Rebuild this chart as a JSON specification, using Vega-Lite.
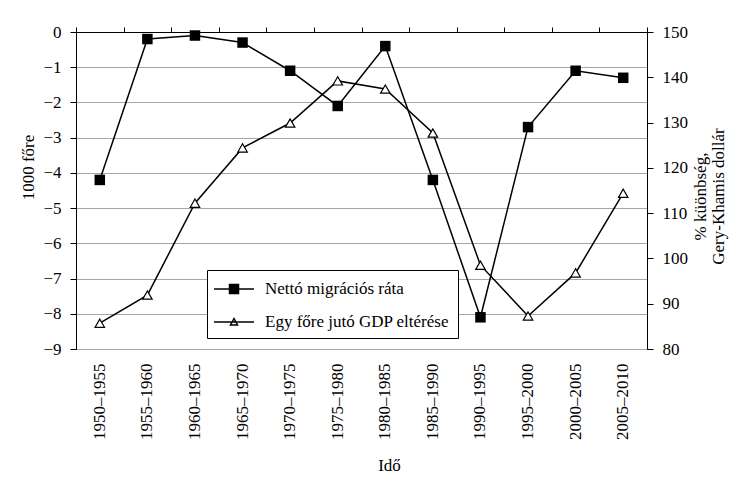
{
  "$schema": "https://vega.github.io/schema/vega-lite/v6.json",
  "autosize": {"type": "none"},
  "width": 571,
  "height": 317,
  "padding": {"left": 76, "top": 32, "right": 86, "bottom": 132},
  "background": "white",
  "config": {
    "view": {"stroke": "black", "strokeWidth": 1},
    "font": "Liberation Serif",
    "axis": {
      "labelFont": "Liberation Serif",
      "labelFontSize": 17,
      "labelColor": "black",
      "titleFont": "Liberation Serif",
      "titleFontSize": 17,
      "titleFontWeight": "normal",
      "titleColor": "black",
      "domainColor": "black",
      "tickColor": "black"
    },
    "legend": {
      "labelFont": "Liberation Serif",
      "labelFontSize": 17,
      "labelColor": "black",
      "labelLimit": 400
    }
  },
  "data": {
    "values": [
      {"period": "1950–1955", "series": "Nettó migrációs ráta", "value": -4.2},
      {"period": "1955–1960", "series": "Nettó migrációs ráta", "value": -0.2},
      {"period": "1960–1965", "series": "Nettó migrációs ráta", "value": -0.1},
      {"period": "1965–1970", "series": "Nettó migrációs ráta", "value": -0.3},
      {"period": "1970–1975", "series": "Nettó migrációs ráta", "value": -1.1},
      {"period": "1975–1980", "series": "Nettó migrációs ráta", "value": -2.1},
      {"period": "1980–1985", "series": "Nettó migrációs ráta", "value": -0.4},
      {"period": "1985–1990", "series": "Nettó migrációs ráta", "value": -4.2},
      {"period": "1990–1995", "series": "Nettó migrációs ráta", "value": -8.1},
      {"period": "1995–2000", "series": "Nettó migrációs ráta", "value": -2.7},
      {"period": "2000–2005", "series": "Nettó migrációs ráta", "value": -1.1},
      {"period": "2005–2010", "series": "Nettó migrációs ráta", "value": -1.3},
      {"period": "1950–1955", "series": "Egy főre jutó GDP eltérése", "value": 85.7},
      {"period": "1955–1960", "series": "Egy főre jutó GDP eltérése", "value": 91.9},
      {"period": "1960–1965", "series": "Egy főre jutó GDP eltérése", "value": 112.2},
      {"period": "1965–1970", "series": "Egy főre jutó GDP eltérése", "value": 124.4},
      {"period": "1970–1975", "series": "Egy főre jutó GDP eltérése", "value": 129.9},
      {"period": "1975–1980", "series": "Egy főre jutó GDP eltérése", "value": 139.2},
      {"period": "1980–1985", "series": "Egy főre jutó GDP eltérése", "value": 137.4},
      {"period": "1985–1990", "series": "Egy főre jutó GDP eltérése", "value": 127.7},
      {"period": "1990–1995", "series": "Egy főre jutó GDP eltérése", "value": 98.5},
      {"period": "1995–2000", "series": "Egy főre jutó GDP eltérése", "value": 87.3},
      {"period": "2000–2005", "series": "Egy főre jutó GDP eltérése", "value": 96.8},
      {"period": "2005–2010", "series": "Egy főre jutó GDP eltérése", "value": 114.4}
    ]
  },
  "layer": [
    {
      "encoding": {
        "x": {
          "field": "period", "type": "nominal", "sort": null,
          "scale": {"type": "band", "paddingInner": 0, "paddingOuter": 0},
          "axis": {
            "orient": "bottom", "domain": false, "ticks": false,
            "labelAngle": -90, "labelPadding": 14,
            "title": "Idő", "titleX": 313, "titleY": 116,
            "titleBaseline": "middle", "titleAlign": "center"
          }
        },
        "y": {
          "field": "value", "type": "quantitative",
          "scale": {"domain": [-9, 0], "nice": false, "zero": false},
          "axis": {
            "orient": "left", "values": [-9, -8, -7, -6, -5, -4, -3, -2, -1, 0],
            "grid": true, "gridColor": "#a6a6a6", "gridWidth": 1,
            "tickSize": 6, "labelPadding": 9,
            "title": "1000 főre", "titleAngle": -90,
            "titleX": -48, "titleY": 135, "titleBaseline": "middle", "titleAlign": "center"
          }
        }
      },
      "layer": [
        {
          "transform": [{"filter": "datum.series === 'Nettó migrációs ráta'"}],
          "mark": {"type": "line", "color": "black", "strokeWidth": 1.5}
        },
        {
          "transform": [{"filter": "datum.series === 'Nettó migrációs ráta'"}],
          "mark": {"type": "point", "shape": "square", "filled": true, "color": "black", "opacity": 1, "size": 110}
        },
        {
          "transform": [{"filter": "false"}],
          "mark": {"type": "point", "filled": false, "color": "black", "strokeWidth": 1.5, "opacity": 1},
          "encoding": {
            "shape": {
              "field": "series", "type": "nominal",
              "scale": {
                "domain": ["Nettó migrációs ráta", "Egy főre jutó GDP eltérése"],
                "range": [
                  "M-2,0H2M-0.45,-0.45H0.45V0.45H-0.45ZM-0.45,-0.3H0.45M-0.45,-0.15H0.45M-0.45,0.15H0.45M-0.45,0.3H0.45",
                  "M-2,0H2M0,-0.35L0.35,0.3L-0.35,0.3Z"
                ]
              },
              "legend": {
                "title": null, "orient": "none", "legendX": 131, "legendY": 238,
                "strokeColor": "black", "fillColor": "white", "padding": 8,
                "symbolSize": 400, "symbolOffset": 8, "labelOffset": 20, "rowPadding": 14,
                "symbolStrokeColor": "black", "symbolStrokeWidth": 1.5, "labelLimit": 400
              }
            }
          }
        }
      ]
    },
    {
      "transform": [{"filter": "datum.series === 'Egy főre jutó GDP eltérése'"}],
      "encoding": {
        "x": {
          "field": "period", "type": "nominal", "sort": null,
          "scale": {"type": "band", "paddingInner": 0, "paddingOuter": 0},
          "axis": {
            "orient": "top", "labels": false, "title": null, "domain": true,
            "ticks": true, "tickBand": "extent", "tickSize": 5
          }
        },
        "y": {
          "field": "value", "type": "quantitative",
          "scale": {"domain": [80, 150], "nice": false, "zero": false},
          "axis": {
            "orient": "right", "values": [80, 90, 100, 110, 120, 130, 140, 150],
            "grid": false, "tickSize": 6, "labelPadding": 9,
            "title": ["% küönbség,", "Gery-Khamis dollár"], "titleAngle": -90,
            "titleLineHeight": 18,
            "titleX": 53, "titleY": 164, "titleBaseline": "middle", "titleAlign": "center"
          }
        }
      },
      "layer": [
        {"mark": {"type": "line", "color": "black", "strokeWidth": 1.5}},
        {"mark": {"type": "point", "shape": "triangle-up", "filled": true, "fill": "white", "stroke": "black", "strokeWidth": 1.2, "opacity": 1, "size": 90}}
      ]
    }
  ],
  "resolve": {"scale": {"y": "independent"}, "axis": {"x": "independent"}}
}
